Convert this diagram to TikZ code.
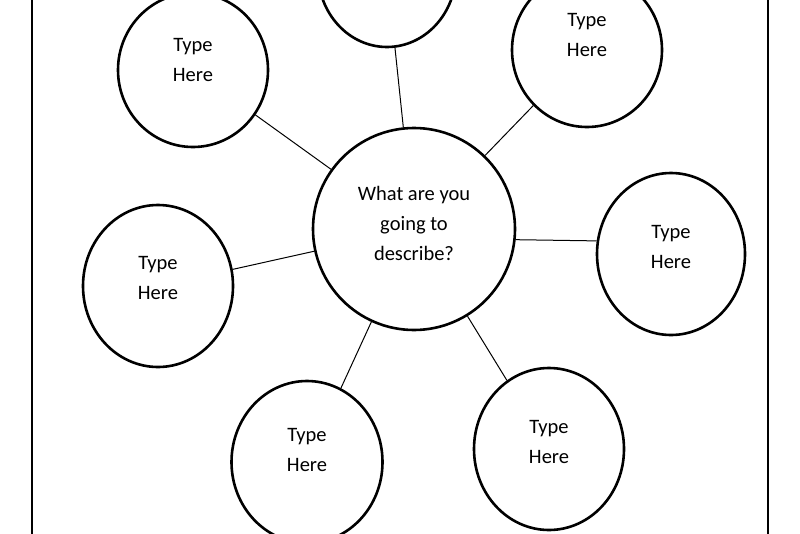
\documentclass[tikz,border=0pt]{standalone}
\usepackage{fontspec}
\setmainfont{Carlito}
\usetikzlibrary{shapes.geometric}
\begin{document}
\begin{tikzpicture}[x=1pt,y=-1pt,
  bub/.style={ellipse,draw,line width=2.6pt,inner sep=0pt},
  txt/.style={label={[align=center,font=\fontsize{20.5}{30}\selectfont,yshift=#1]center:{Type\\Here}}},
  con/.style={line width=1pt}]
\useasboundingbox (0,0) rectangle (800,533);
\draw[line width=1.4pt] (32,-5) -- (32,540) (768,-5) -- (768,540);
\node[bub,minimum width=202pt,minimum height=202pt,label={[align=center,font=\fontsize{20.5}{30}\selectfont,yshift=6pt]center:{What are you\\going to\\describe?}}] (c) at (414,229) {};
\node[bub,minimum width=138pt,minimum height=150pt] (t) at (387,-28) {};
\node[bub,minimum width=150pt,minimum height=154pt,txt=10pt] (tl) at (193,70) {};
\node[bub,minimum width=150pt,minimum height=154pt,txt=15pt] (tr) at (587,50) {};
\node[bub,minimum width=150pt,minimum height=162pt,txt=8pt] (l) at (158,286) {};
\node[bub,minimum width=148pt,minimum height=162pt,txt=7pt] (r) at (671,254) {};
\node[bub,minimum width=151pt,minimum height=162pt,txt=12pt] (bl) at (307,462) {};
\node[bub,minimum width=150pt,minimum height=162pt,txt=7pt] (br) at (549,449) {};
\draw[con] (t) -- (c);
\draw[con] (tl) -- (c);
\draw[con] (tr) -- (c);
\draw[con] (l) -- (c);
\draw[con] (c.-6) -- (r.170);
\draw[con] (bl) -- (c);
\draw[con] (br) -- (c);
\end{tikzpicture}
\end{document}
